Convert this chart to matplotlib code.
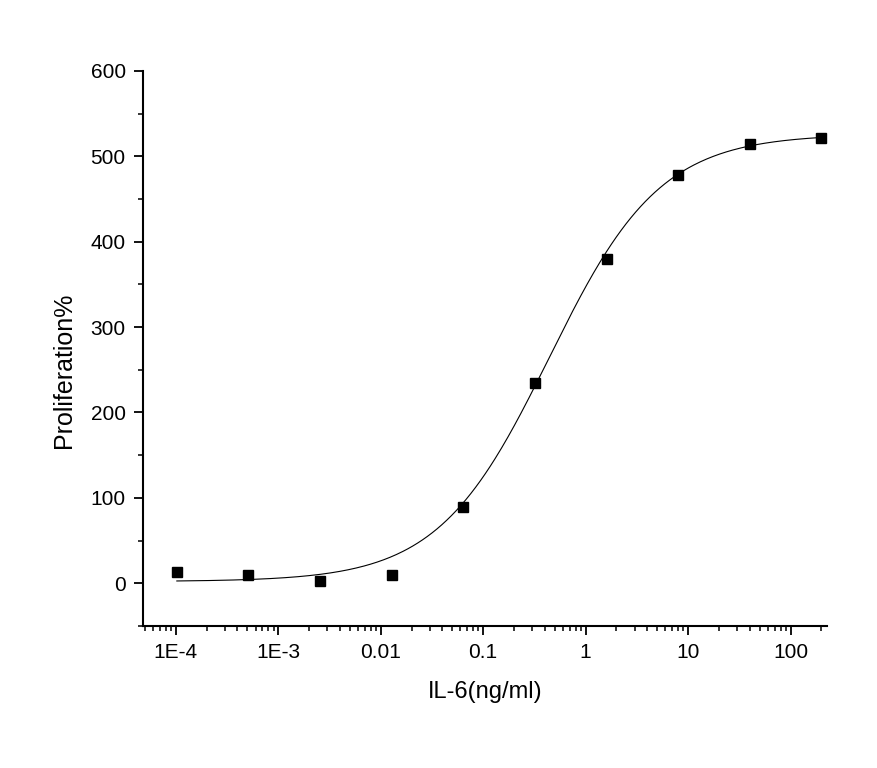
import matplotlib
matplotlib.use('Agg')
import matplotlib.pyplot as plt
import numpy as np
from matplotlib.ticker import FixedLocator, LogLocator, NullFormatter, MultipleLocator

plt.rcParams['font.family'] = ['Liberation Sans', 'DejaVu Sans']

# measured points: IL-6 5-fold dilution series
il6_conc = [0.0001024, 0.000512, 0.00256, 0.0128, 0.064, 0.32, 1.6, 8.0, 40.0, 200.0]
proliferation = [13, 10, 3, 10, 89, 235, 380, 478, 514, 522]

# four-parameter logistic fit shown as the solid line
fit_bottom = 2.0
fit_top = 526.0
fit_ec50 = 0.44
fit_hill = 0.8

x_ticks = [1e-4, 1e-3, 1e-2, 1e-1, 1, 10, 100]
x_tick_labels = ['1E-4', '1E-3', '0.01', '0.1', '1', '10', '100']
y_ticks = [0, 100, 200, 300, 400, 500, 600]


def logistic(x):
    return fit_bottom + (fit_top - fit_bottom) / (1 + (fit_ec50 / x) ** fit_hill)


fig = plt.figure(figsize=(8.78, 7.68), dpi=100)
ax = fig.add_axes([0.163, 0.185, 0.7785, 0.7226])

x_fit = np.logspace(np.log10(il6_conc[0]), np.log10(il6_conc[-1]), 400)
ax.plot(x_fit, logistic(x_fit), color='black', lw=0.8)
ax.plot(il6_conc, proliferation, 's', color='black', markersize=7.5)

ax.set_xscale('log')
ax.set_xlim(4.8e-5, 225)
ax.set_ylim(-50, 600)

ax.xaxis.set_major_locator(FixedLocator(x_ticks))
ax.set_xticklabels(x_tick_labels)
ax.xaxis.set_minor_locator(LogLocator(base=10, subs=np.arange(2, 10)))
ax.xaxis.set_minor_formatter(NullFormatter())
ax.yaxis.set_major_locator(FixedLocator(y_ticks))
ax.yaxis.set_minor_locator(MultipleLocator(50))

for side in ('top', 'right'):
    ax.spines[side].set_visible(False)
for side in ('left', 'bottom'):
    ax.spines[side].set_linewidth(1.5)

ax.tick_params(which='major', direction='out', length=6.5, width=1.3, labelsize=15, pad=6)
ax.tick_params(which='minor', direction='out', length=3.5, width=1.1)

ax.set_xlabel('IL-6(ng/ml)', fontsize=17)
ax.set_ylabel('Proliferation%', fontsize=18)
ax.xaxis.set_label_coords(0.5, -0.1)
ax.yaxis.set_label_coords(-0.098, 0.46)

fig.savefig('out.png', dpi=100, facecolor='white')
